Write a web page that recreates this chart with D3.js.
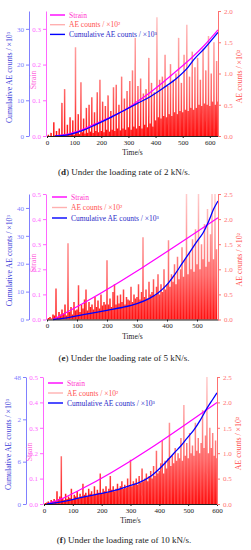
<!DOCTYPE html>
<html>
<head>
<meta charset="utf-8">
<script src="https://cdn.jsdelivr.net/npm/d3@7"></script>
<style>
  body { margin: 0; background: #fff; }
  svg { display: block; }
</style>
</head>
<body>
<svg id="chart" width="251" height="550"></svg>
<script>
// ---- data ----
var aeStep = 5; // AE counts sampled every 5 s

// (d) 2 kN/s
var strainTimeD = [30, 80, 130, 180, 230, 280, 330, 380, 430, 480, 530, 580, 630];
var strainD = [0, 0.006, 0.018, 0.035, 0.052, 0.07, 0.095, 0.122, 0.152, 0.184, 0.217, 0.254, 0.297];
var cumTimeD = [30, 80, 130, 180, 230, 280, 330, 380, 430, 480, 520, 540, 580, 630];
var cumD = [0, 0.4, 1.5, 3.2, 5.0, 7.0, 9.0, 11.0, 13.5, 16.3, 19.3, 21.3, 24.5, 29];
var aeD = [
  0, 0.02, 0, 0.05, 0, 0.22, 0.01, 0.08, 0, 0.12,
  0.02, 0.53, 0.01, 0.75, 0.03, 0.18, 0.02, 0.3, 0.04, 0.25,
  0.02, 1.42, 0.05, 0.35, 0.03, 0.86, 0.06, 0.28, 0.04, 0.45,
  0.05, 0.5, 0.07, 0.62, 0.05, 0.38, 0.08, 0.7, 0.06, 0.9,
  0.08, 0.55, 0.06, 0.48, 0.1, 0.65, 0.07, 0.4, 0.1, 0.78,
  0.08, 0.82, 0.12, 0.5, 0.09, 0.95, 0.12, 0.6, 0.1, 0.72,
  0.14, 0.88, 0.1, 1.05, 0.15, 1.57, 0.12, 0.8, 0.16, 0.92,
  0.12, 0.68, 0.18, 0.75, 0.14, 1.25, 0.2, 0.85, 0.15, 0.7,
  0.25, 1.9, 0.3, 0.9, 0.28, 0.95, 0.32, 1.3, 0.3, 0.8,
  0.35, 1.15, 0.32, 0.9, 0.38, 1.0, 0.35, 1.57, 0.4, 0.85,
  0.38, 1.3, 0.42, 1.78, 0.4, 0.95, 0.45, 1.35, 0.42, 1.1,
  0.45, 1.25, 0.5, 0.9, 0.48, 1.4, 0.52, 1.05, 0.5, 1.6,
  0.48, 1.0, 0.55, 1.5, 0.5, 1.2, 0.55
];

// (e) 5 kN/s
var strainTimeE = [20, 60, 570];
var strainE = [0, 0.025, 0.405];
var cumTimeE = [20, 60, 100, 150, 200, 250, 300, 340, 370, 400, 425, 450, 475, 500, 520, 540, 555, 570];
var cumE = [0, 0.5, 1.3, 2.3, 3.3, 4.3, 5.7, 7.5, 9.5, 12.5, 16, 20, 24, 28, 31, 35.5, 39.5, 42.5];
var aeE = [
  0, 0.03, 0.05, 0.02, 0.1, 0.08, 0.62, 0.05, 0.15, 0.1,
  0.2, 0.12, 0.3, 0.08, 1.52, 0.15, 0.25, 0.1, 0.35, 0.18,
  0.2, 0.68, 0.15, 0.3, 0.22, 0.4, 0.6, 0.18, 0.35, 0.25,
  0.3, 0.2, 0.45, 0.25, 0.38, 0.22, 0.5, 0.28, 0.35, 0.3,
  1.18, 0.3, 0.42, 0.25, 0.55, 0.7, 0.3, 0.48, 0.32, 0.5,
  0.35, 0.6, 0.3, 0.45, 0.4, 0.38, 0.65, 0.35, 0.5, 0.42,
  0.45, 0.7, 0.4, 0.55, 1.64, 0.45, 0.6, 0.42, 0.75, 0.5,
  0.55, 0.8, 0.48, 0.65, 0.9, 0.5, 0.7, 0.55, 1.0, 0.6,
  0.7, 1.58, 0.65, 0.9, 0.75, 1.1, 0.7, 1.25, 0.8, 1.0,
  1.44, 0.85, 1.2, 2.5, 0.9, 1.35, 1.0, 1.6, 0.95, 1.8,
  1.1, 2.5, 1.0, 1.5, 1.2, 1.9, 1.05, 2.2, 1.15, 1.7,
  2.5, 1.2, 2.5, 1.4
];

// (f) 10 kN/s
var strainTimeF = [10, 60, 125, 600];
var strainF = [0, 0.02, 0.056, 0.40];
var cumTimeF = [10, 60, 135, 200, 253, 300, 333, 370, 392, 420, 449, 475, 497, 520, 541, 566, 585, 600];
var cumF = [0, 0.8, 2.6, 4.0, 5.3, 7.0, 8.3, 10.5, 12.5, 15.5, 19, 22, 25, 28, 31.5, 36.3, 39.5, 42];
var aeF = [
  0, 0.02, 0.03, 0.05, 0.02, 0.08, 0.05, 0.1, 0.06, 0.25,
  0.1, 0.15, 0.94, 0.12, 0.08, 0.2, 0.1, 0.15, 0.12, 0.3,
  0.1, 0.18, 0.15, 0.25, 0.12, 0.2, 0.15, 0.4, 0.18, 0.22,
  0.15, 0.3, 0.2, 0.25, 0.18, 0.35, 0.2, 0.28, 0.22, 0.6,
  0.2, 0.3, 0.25, 0.35, 0.22, 0.3, 0.55, 0.28, 0.35, 0.25,
  0.3, 0.4, 0.28, 0.35, 0.45, 0.3, 0.38, 0.32, 0.5, 0.35,
  0.87, 0.35, 0.45, 0.4, 0.5, 0.38, 0.55, 0.42, 0.7, 0.45,
  0.5, 0.6, 0.45, 0.55, 0.65, 0.5, 0.75, 0.55, 1.05, 0.6,
  0.65, 0.8, 1.25, 0.6, 0.85, 0.7, 0.9, 1.6, 0.75, 0.95,
  0.8, 1.1, 0.85, 1.0, 0.9, 1.3, 0.85, 1.95, 0.95, 1.2,
  0.9, 1.4, 1.0, 1.15, 0.95, 1.6, 1.05, 1.3, 1.0, 1.2,
  1.85, 1.1, 1.35, 2.5, 1.0, 1.5, 1.1, 1.4, 0.95, 1.25,
  0.9
];

var timeTicksD = [0, 100, 200, 300, 400, 500, 600];
var timeTicksE = [0, 100, 200, 300, 400, 500];
var timeTicksF = [0, 100, 200, 300, 400, 500, 600];
var cumTicksD = [0, 10, 20, 30];
var cumTicksE = [0, 10, 20, 30, 40];
var cumTicksF = [0, 16, 32, 48];
var cumLabelsF = ["0", "6", "2", "48"];
var strainTicksD = [0, 0.1, 0.2, 0.3];
var strainTicksEF = [0, 0.1, 0.2, 0.3, 0.4, 0.5];
var aeTicksD = [0, 0.5, 1.0, 1.5, 2.0];
var aeTicksEF = [0, 0.5, 1.0, 1.5, 2.0, 2.5];

var legendNames = ["Strain", "AE counts / \u00d710\u00b2", "Cumulative AE counts / \u00d710\u00b3"];

var svg = d3.select("#chart");
var defs = svg.append("defs");
var font = "Liberation Serif, Times New Roman, serif";

var styleAxis = function(g, color) {
  g.attr("font-family", font).attr("font-size", 7);
  g.select(".domain").attr("stroke", color);
  g.selectAll(".tick line").attr("stroke", color);
  g.selectAll(".tick text").attr("fill", color);
};

var drawPanel = function(p) {
  var g = svg.append("g");

  var x = d3.scaleLinear().domain([0, p.tMax]).range([p.x0, p.x1]);
  var yCum = d3.scaleLinear().domain([0, p.cumMax]).range([p.yb, p.yt]);
  var yStrain = d3.scaleLinear().domain([0, p.strainMax]).range([p.yb, p.yt]);
  var yAE = d3.scaleLinear().domain([0, p.aeMax]).range([p.yb, p.yt]);

  // dense red at the base, fading out towards the tips of the spikes
  var gradId = "aeGrad" + p.letter;
  var grad = defs.append("linearGradient")
    .attr("id", gradId)
    .attr("gradientUnits", "userSpaceOnUse")
    .attr("x1", 0).attr("x2", 0)
    .attr("y1", p.yb).attr("y2", p.yt);
  grad.append("stop").attr("offset", 0).attr("stop-color", "#ff0000").attr("stop-opacity", 0.95);
  grad.append("stop").attr("offset", 0.35).attr("stop-color", "#ff0000").attr("stop-opacity", 0.6);
  grad.append("stop").attr("offset", 1).attr("stop-color", "#ff0000").attr("stop-opacity", 0.2);

  g.append("g").selectAll("line")
    .data(p.ae)
    .enter().append("line")
    .attr("x1", function(d, i) { return x(i * aeStep); })
    .attr("x2", function(d, i) { return x(i * aeStep) + 0.01; })
    .attr("y1", yAE(0))
    .attr("y2", function(d) { return yAE(d); })
    .attr("stroke", "url(#" + gradId + ")")
    .attr("stroke-width", 1.5);

  // strain
  var strainPts = p.strainT.map(function(t, i) { return [t, p.strain[i]]; });
  g.append("path")
    .datum(strainPts)
    .attr("fill", "none")
    .attr("stroke", "#ff00ff")
    .attr("stroke-width", 1.2)
    .attr("d", d3.line()
      .x(function(d) { return x(d[0]); })
      .y(function(d) { return yStrain(d[1]); })
      .curve(d3.curveMonotoneX));

  // cumulative AE counts
  var cumPts = p.cumT.map(function(t, i) { return [t, p.cum[i]]; });
  g.append("path")
    .datum(cumPts)
    .attr("fill", "none")
    .attr("stroke", "#0000ff")
    .attr("stroke-width", 1.3)
    .attr("d", d3.line()
      .x(function(d) { return x(d[0]); })
      .y(function(d) { return yCum(d[1]); })
      .curve(d3.curveMonotoneX));

  // axes
  g.append("g")
    .attr("transform", "translate(0," + p.yb + ")")
    .call(d3.axisBottom(x).tickValues(p.timeTicks).tickSize(2).tickSizeOuter(0).tickPadding(2))
    .call(styleAxis, "#222");

  g.append("g")
    .attr("transform", "translate(" + p.cumAxisX + ",0)")
    .call(d3.axisLeft(yCum).tickValues(p.cumTicks)
      .tickFormat(function(d, i) { return p.cumLabels ? p.cumLabels[i] : d; })
      .tickSize(3).tickSizeOuter(0).tickPadding(2))
    .call(styleAxis, "#8080ff");

  g.append("g")
    .attr("transform", "translate(" + p.strainAxisX + ",0)")
    .call(d3.axisLeft(yStrain).tickValues(p.strainTicks).tickFormat(d3.format(".1f"))
      .tickSize(3).tickSizeOuter(0).tickPadding(2))
    .call(styleAxis, "#ff66ff");

  g.append("g")
    .attr("transform", "translate(" + p.x1 + ",0)")
    .call(d3.axisRight(yAE).tickValues(p.aeTicks).tickFormat(d3.format(".1f"))
      .tickSize(3).tickSizeOuter(0).tickPadding(3))
    .call(styleAxis, "#ff7070");

  // axis titles
  var midY = (p.yb + p.yt) / 2;
  g.append("text")
    .attr("transform", "translate(" + p.cumTitleX + "," + (midY + 4) + ") rotate(-90)")
    .attr("text-anchor", "middle")
    .attr("font-family", font).attr("font-size", 7.8)
    .attr("fill", "#3a3ad8")
    .text(legendNames[2]);

  g.append("text")
    .attr("transform", "translate(" + p.strainTitleX + "," + p.strainTitleY + ") rotate(-90)")
    .attr("text-anchor", "middle")
    .attr("font-family", font).attr("font-size", 7.8)
    .attr("fill", "#ff66dd")
    .text("Strain");

  g.append("text")
    .attr("transform", "translate(" + (p.x1 + 24) + "," + (midY + 3) + ") rotate(-90)")
    .attr("text-anchor", "middle")
    .attr("font-family", font).attr("font-size", 7.8)
    .attr("fill", "#ff4a4a")
    .text(legendNames[1]);

  g.append("text")
    .attr("x", (p.x0 + p.x1) / 2)
    .attr("y", p.yb + 19)
    .attr("text-anchor", "middle")
    .attr("font-family", font).attr("font-size", 7.5)
    .attr("fill", "#222")
    .text("Time/s");

  // legend
  var legColors = ["#ff00ff", "#ffb0b0", "#0000ff"];
  var legText = ["#ff33cc", "#ff5050", "#2a2ac8"];
  var leg = g.append("g").attr("transform", "translate(" + p.legX + "," + p.legY + ")");
  legendNames.forEach(function(name, i) {
    leg.append("line")
      .attr("x1", 0).attr("x2", 15)
      .attr("y1", i * p.legGap).attr("y2", i * p.legGap)
      .attr("stroke", legColors[i]).attr("stroke-width", 1.4);
    leg.append("text")
      .attr("x", 19).attr("y", i * p.legGap + 2.5)
      .attr("font-family", font).attr("font-size", 7.5)
      .attr("fill", legText[i])
      .text(name);
  });

  // caption
  var cap = svg.append("text")
    .attr("x", 124)
    .attr("y", p.capY)
    .attr("text-anchor", "middle")
    .attr("font-family", font).attr("font-size", 9)
    .attr("fill", "#222");
  cap.append("tspan").text("(");
  cap.append("tspan").attr("font-weight", "bold").text(p.letter);
  cap.append("tspan").text(") Under the loading rate of " + p.rate + " kN/s.");
};

drawPanel({
  x0: 47, x1: 218, yt: 11, yb: 136, tMax: 630,
  cumMax: 35, strainMax: 0.35, aeMax: 2.0,
  cumAxisX: 29, strainAxisX: 46, cumTitleX: 12, strainTitleX: 36, strainTitleY: 80,
  timeTicks: timeTicksD, cumTicks: cumTicksD, strainTicks: strainTicksD, aeTicks: aeTicksD,
  ae: aeD, strainT: strainTimeD, strain: strainD, cumT: cumTimeD, cum: cumD,
  legX: 50, legY: 15, legGap: 9.7, capY: 175, letter: "d", rate: 2
});

drawPanel({
  x0: 47, x1: 218, yt: 194, yb: 319.5, tMax: 570,
  cumMax: 45, strainMax: 0.5, aeMax: 2.5,
  cumAxisX: 29, strainAxisX: 46, cumTitleX: 12, strainTitleX: 36, strainTitleY: 263,
  timeTicks: timeTicksE, cumTicks: cumTicksE, strainTicks: strainTicksEF, aeTicks: aeTicksEF,
  ae: aeE, strainT: strainTimeE, strain: strainE, cumT: cumTimeE, cum: cumE,
  legX: 52, legY: 197, legGap: 10.5, capY: 361, letter: "e", rate: 5
});

drawPanel({
  x0: 44, x1: 217, yt: 377, yb: 504, tMax: 600,
  cumMax: 48, strainMax: 0.5, aeMax: 2.5,
  cumAxisX: 26, strainAxisX: 43, cumTitleX: 11, strainTitleX: 32, strainTitleY: 452,
  timeTicks: timeTicksF, cumTicks: cumTicksF, cumLabels: cumLabelsF,
  strainTicks: strainTicksEF, aeTicks: aeTicksEF,
  ae: aeF, strainT: strainTimeF, strain: strainF, cumT: cumTimeF, cum: cumF,
  legX: 48, legY: 383, legGap: 10, capY: 543, letter: "f", rate: 10
});
</script>
</body>
</html>
